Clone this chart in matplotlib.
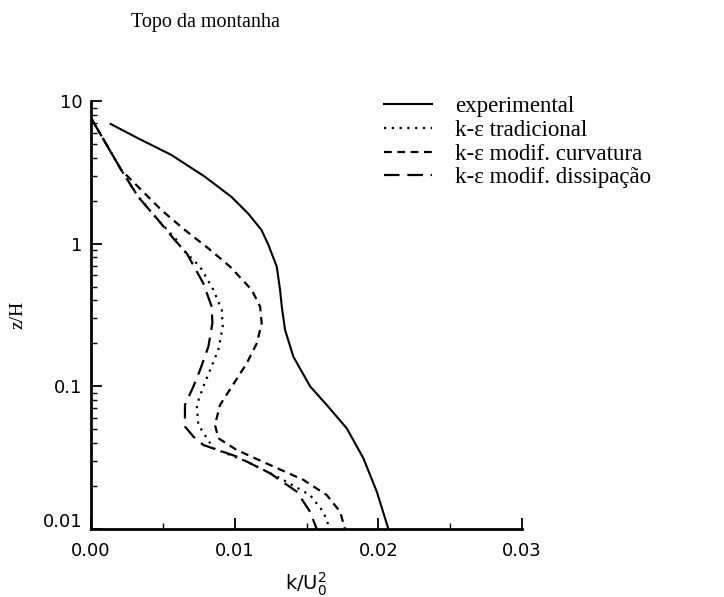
import numpy as np
import matplotlib.pyplot as plt
import matplotlib.transforms as mtransforms
from matplotlib.ticker import MultipleLocator, LogLocator, NullFormatter, FixedLocator, FixedFormatter

# experimental
exp_k = [0.00137, 0.00327, 0.00559, 0.00792, 0.00977, 0.01093, 0.01186, 0.01235,
         0.01293, 0.01316, 0.01328, 0.01351, 0.01409, 0.01525, 0.01641, 0.0178,
         0.01896, 0.01989, 0.0207]
exp_z = [6.9, 5.48, 4.19, 2.95, 2.13, 1.63, 1.25, 0.98,
         0.69, 0.474, 0.362, 0.248, 0.161, 0.100, 0.074, 0.0508,
         0.0313, 0.0183, 0.01]

# k-eps tradicional
trad_k = [0.0, 0.00211, 0.00327, 0.00466, 0.0059, 0.00629, 0.00759, 0.00852, 0.0091,
          0.00917, 0.00886, 0.00829, 0.00782, 0.00736, 0.00747, 0.00852, 0.01084,
          0.01316, 0.01525, 0.01617, 0.01664]
trad_z = [7.6, 3.28, 2.14, 1.47, 1.08, 0.93, 0.69, 0.474, 0.343,
          0.262, 0.180, 0.130, 0.0995, 0.074, 0.0537, 0.0368, 0.0297,
          0.0227, 0.0173, 0.0132, 0.01]

# k-eps modif. curvatura
curv_k = [0.0, 0.00211, 0.00327, 0.0049, 0.00652, 0.00815, 0.00968, 0.01119, 0.01177,
          0.01188, 0.01154, 0.01084, 0.0098, 0.00898, 0.00863, 0.00886, 0.01014,
          0.01246, 0.01478, 0.01641, 0.01734, 0.01768]
curv_z = [7.6, 3.28, 2.51, 1.72, 1.25, 0.93, 0.69, 0.474, 0.362,
          0.277, 0.200, 0.145, 0.0995, 0.074, 0.0537, 0.0433, 0.0358,
          0.0281, 0.0221, 0.0173, 0.0132, 0.01]

# k-eps modif. dissipacao
diss_k = [0.0, 0.00211, 0.00327, 0.00466, 0.00583, 0.00666, 0.00782, 0.0084, 0.00845,
          0.00817, 0.00759, 0.00712, 0.00654, 0.00654, 0.00712, 0.00782, 0.01014,
          0.01246, 0.01432, 0.01525, 0.01571]
diss_z = [7.6, 3.28, 2.14, 1.47, 1.06, 0.857, 0.527, 0.362, 0.277,
          0.190, 0.130, 0.0995, 0.074, 0.0523, 0.0445, 0.0388, 0.0322,
          0.0246, 0.0183, 0.0132, 0.01]

labels = ['experimental', 'k-\u03b5 tradicional', 'k-\u03b5 modif. curvatura',
          'k-\u03b5 modif. dissipa\u00e7\u00e3o']

fig = plt.figure(figsize=(7.24, 5.97), dpi=100)
ax = fig.add_axes([91/724, 1-529/597, (522-91)/724, (529-101)/597])

l1, = ax.plot(exp_k, exp_z, color='black', lw=1.5, linestyle='-')
l2, = ax.plot(trad_k, trad_z, color='black', lw=1.6, linestyle=(0, (1, 2.5)))
l3, = ax.plot(curv_k, curv_z, color='black', lw=1.6, linestyle=(0, (3.5, 2.5)))
l4, = ax.plot(diss_k, diss_z, color='black', lw=1.6, linestyle=(0, (7, 3.5)))

ax.set_yscale('log')
ax.set_xlim(0, 0.03)
ax.set_ylim(0.01, 10)

ax.xaxis.set_major_locator(FixedLocator([0, 0.01, 0.02, 0.03]))
ax.xaxis.set_major_formatter(FixedFormatter(['0.00', '0.01', '0.02', '0.03']))
ax.xaxis.set_minor_locator(MultipleLocator(0.005))
ax.yaxis.set_major_locator(FixedLocator([0.01, 0.1, 1, 10]))
ax.yaxis.set_major_formatter(FixedFormatter(['0.01', '0.1', '1', '10']))
ax.yaxis.set_minor_locator(LogLocator(base=10, subs=np.arange(2, 10)))
ax.yaxis.set_minor_formatter(NullFormatter())

ax.tick_params(which='major', direction='in', length=8, width=1.3, labelsize=13)
ax.tick_params(which='minor', direction='in', length=4, width=1)
ax.tick_params(axis='x', pad=9)
ax.tick_params(axis='y', pad=6)
for s in ['top', 'right']:
    ax.spines[s].set_visible(False)
for s in ['left', 'bottom']:
    ax.spines[s].set_linewidth(2)

# lift the 0.01 label on y so it clears 0.00 on x
fig.canvas.draw()
lab = ax.yaxis.get_majorticklabels()[0]
lab.set_transform(lab.get_transform() + mtransforms.ScaledTranslation(0, 9/100, fig.dpi_scale_trans))

ax.set_xlabel(r'$\mathrm{k/U_0^2}$', fontsize=14, labelpad=8)
ax.set_ylabel('z/H', fontsize=14, family='Liberation Serif')
ax.yaxis.set_label_coords(-(91-26)/431, 0.5)

fig.text(205/724, 1-22/597, 'Topo da montanha', ha='center', va='center',
         fontsize=14.5, family='Liberation Serif')

fig.legend([l1, l2, l3, l4], labels, loc='upper left', bbox_to_anchor=(384/724, 1-96/597),
           frameon=False, prop={'family': 'Liberation Serif', 'size': 16.5},
           handlelength=2.1, handletextpad=1.0, labelspacing=0.12, borderpad=0,
           borderaxespad=0)

fig.savefig('out.png', dpi=100)
